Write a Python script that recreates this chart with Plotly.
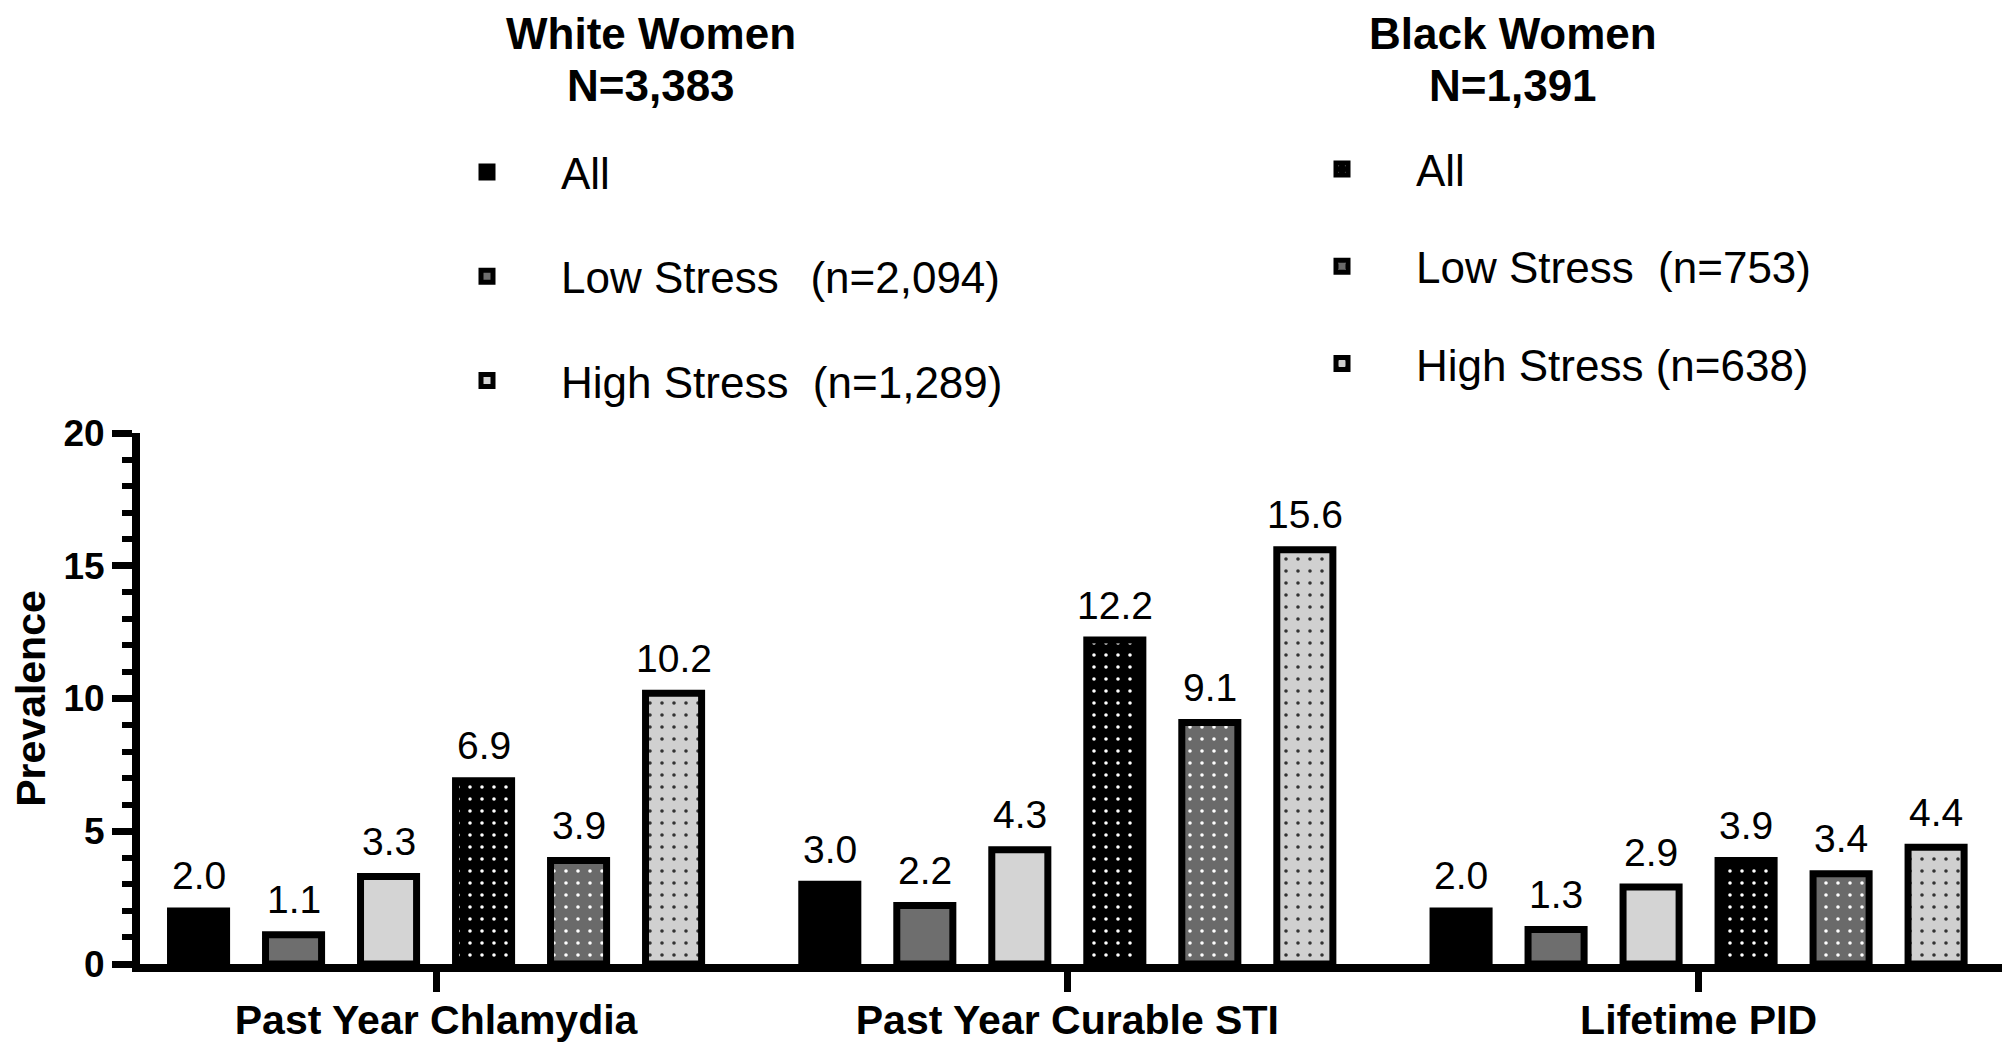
import plotly.graph_objects as go

categories = ["Past Year Chlamydia", "Past Year Curable STI", "Lifetime PID"]
white_all = [2.0, 3.0, 2.0]
white_low = [1.1, 2.2, 1.3]
white_high = [3.3, 4.3, 2.9]
black_all = [6.9, 12.2, 3.9]
black_low = [3.9, 9.1, 3.4]
black_high = [10.2, 15.6, 4.4]
y_ticks = [0, 5, 10, 15, 20]

NB = "\u00a0"
white_names = ["All", "Low Stress" + NB * 2 + "\u2006(n=2,094)", "High Stress" + NB * 2 + "(n=1,289)"]
black_names = ["All", "Low Stress" + NB * 2 + "(n=753)", "High Stress" + NB + "(n=638)"]

FONT = "Liberation Sans, Arial, sans-serif"
OFF = 8  # page body margin of the html page
W, H = 2010 - OFF, 1045 - OFF
ML = 140 - OFF
MR = W - (2006 - OFF)
MT = 433 - OFF
MB = H - (964 - OFF)
PW = W - ML - MR
PH = H - MT - MB
BARGAP = 0.097


def px_x(x):
    return (x - OFF - ML) / PW


def px_y(y):
    return (H - MB - (y - OFF)) / PH


series = [
    (white_all, white_names[0], "#000000", None, "legend", "w1"),
    (white_low, white_names[1], "#6e6e6e", None, "legend", "w2"),
    (white_high, white_names[2], "#d4d4d4", None, "legend", "w3"),
    (black_all, black_names[0], "#000000", "#ffffff", "legend2", "b1"),
    (black_low, black_names[1], "#6a6a6a", "#ffffff", "legend2", "b2"),
    (black_high, black_names[2], "#d0d0d0", "#333333", "legend2", "b3"),
]

fig = go.Figure()
annotations = []
n_series = len(series)
pitch = (1 - BARGAP) / n_series
for j, (vals, name, color, dot, leg, grp) in enumerate(series):
    marker = dict(color=color, line=dict(color="#000000", width=7))
    if dot is not None:
        marker["pattern"] = dict(shape=".", bgcolor=color, fgcolor=dot,
                                 size=12, solidity=0.07, fillmode="replace")
    fig.add_trace(go.Bar(
        x=categories, y=vals, name=name, marker=marker,
        legend=leg, legendgroup=grp,
    ))
    for i, v in enumerate(vals):
        annotations.append(dict(
            text=f"{v:.1f}", x=i + (j - (n_series - 1) / 2) * pitch, y=v,
            xref="x", yref="y", xanchor="center", yanchor="middle",
            yshift=35, showarrow=False,
            font=dict(family=FONT, size=39, color="#000000")))

annotations += [
    dict(text="<b>White Women</b>", x=px_x(651), y=px_y(34),
         xref="paper", yref="paper", xanchor="center", yanchor="middle",
         showarrow=False, font=dict(family=FONT, size=44)),
    dict(text="<b>N=3,383</b>", x=px_x(651), y=px_y(85),
         xref="paper", yref="paper", xanchor="center", yanchor="middle",
         showarrow=False, font=dict(family=FONT, size=44)),
    dict(text="<b>Black Women</b>", x=px_x(1513), y=px_y(34),
         xref="paper", yref="paper", xanchor="center", yanchor="middle",
         showarrow=False, font=dict(family=FONT, size=44)),
    dict(text="<b>N=1,391</b>", x=px_x(1513), y=px_y(85),
         xref="paper", yref="paper", xanchor="center", yanchor="middle",
         showarrow=False, font=dict(family=FONT, size=44)),
]

fig.update_layout(
    width=W, height=H,
    margin=dict(l=ML, r=MR, t=MT, b=MB, autoexpand=False),
    paper_bgcolor="white", plot_bgcolor="white",
    barmode="group", bargap=BARGAP, bargroupgap=0.41,
    font=dict(family=FONT, color="#000000"),
    showlegend=True,
    legend=dict(x=px_x(413), y=px_y(137), xanchor="left", yanchor="top",
                font=dict(family=FONT, size=44), tracegroupgap=44,
                bgcolor="rgba(0,0,0,0)", itemwidth=138),
    legend2=dict(x=px_x(1268), y=px_y(134), xanchor="left", yanchor="top",
                 font=dict(family=FONT, size=44), tracegroupgap=37,
                 bgcolor="rgba(0,0,0,0)", itemwidth=138),
    xaxis=dict(range=[-0.469, 2.487], showline=True, linewidth=8,
               linecolor="#000000", ticks="outside", ticklen=20, tickwidth=7,
               tickcolor="#000000", showgrid=False, zeroline=False,
               automargin=False, ticklabelstandoff=-7,
               tickfont=dict(family=FONT, size=41, weight="bold")),
    yaxis=dict(range=[0, 20], tickvals=y_ticks, showline=True, linewidth=8,
               linecolor="#000000", ticks="outside", ticklen=20, tickwidth=7,
               tickcolor="#000000", showgrid=False, zeroline=False,
               automargin=False,
               tickfont=dict(family=FONT, size=37, weight="bold"),
               minor=dict(dtick=1, ticks="outside", ticklen=10, tickwidth=6,
                          tickcolor="#000000", showgrid=False),
               title=dict(text="Prevalence", standoff=15,
                          font=dict(family=FONT, size=41, weight="bold"))),
    annotations=annotations,
)

fig.write_html("out.html")
